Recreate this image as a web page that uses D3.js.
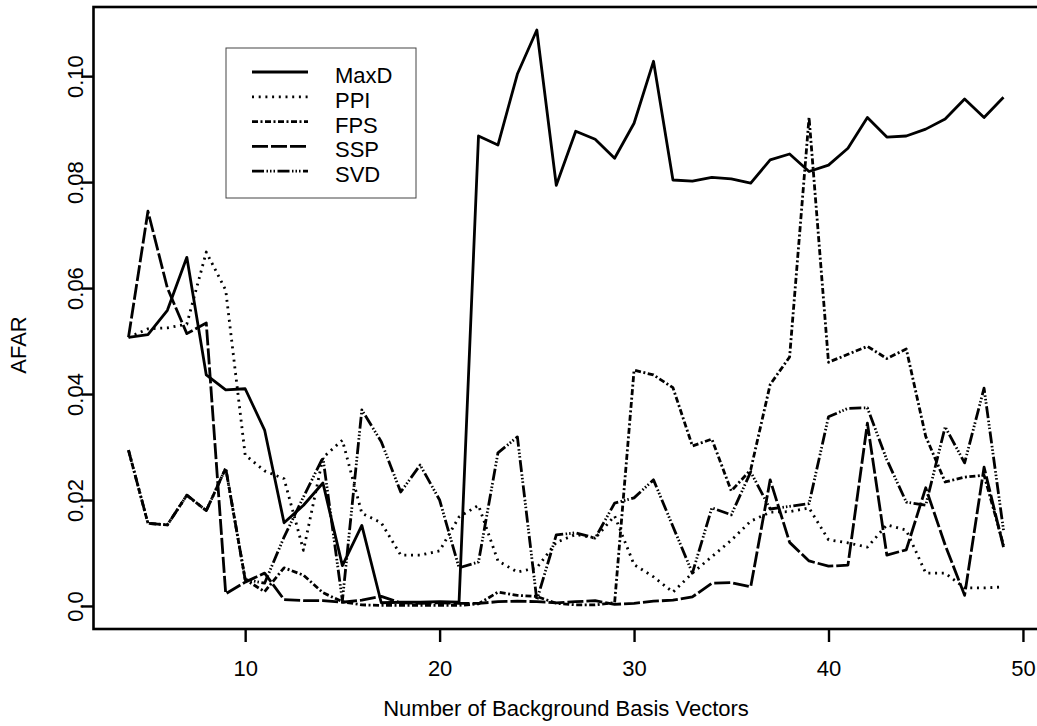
<!DOCTYPE html>
<html>
<head>
<meta charset="utf-8">
<script src="https://cdn.jsdelivr.net/npm/d3@7/dist/d3.min.js"></script>
<style>
  body { margin: 0; background: #fff; }
  text { font-family: "Liberation Sans", Arial, Helvetica, sans-serif; fill: #000; }
</style>
</head>
<body>
<div class="chart"></div>
<script>
var svgWidth = 1037;
var svgHeight = 726;

// number of background basis vectors (x)
var nBasis = [4, 5, 6, 7, 8, 9, 10, 11, 12, 13, 14, 15, 16, 17, 18, 19, 20, 21, 22, 23, 24, 25, 26,
  27, 28, 29, 30, 31, 32, 33, 34, 35, 36, 37, 38, 39, 40, 41, 42, 43, 44, 45, 46, 47, 48, 49];

// AFAR per method
var maxD = [0.0507, 0.0512, 0.0558, 0.0658, 0.0436, 0.0408, 0.0410, 0.0332, 0.0157, 0.0190, 0.0232, 0.0076,
  0.0152, 0.0006, 0.0007, 0.0007, 0.0008, 0.0007, 0.0887, 0.0870, 0.1004, 0.1087, 0.0794, 0.0896, 0.0881,
  0.0845, 0.0911, 0.1028, 0.0804, 0.0802, 0.0809, 0.0806, 0.0798, 0.0842, 0.0853, 0.0820, 0.0832, 0.0864,
  0.0922, 0.0885, 0.0887, 0.0900, 0.0919, 0.0957, 0.0922, 0.0960];
var ppi = [0.0507, 0.0523, 0.0525, 0.0532, 0.0668, 0.0596, 0.0285, 0.0255, 0.0240, 0.0105, 0.0280, 0.0313,
  0.0175, 0.0157, 0.0096, 0.0096, 0.0104, 0.0168, 0.0190, 0.0085, 0.0064, 0.0072, 0.0120, 0.0135, 0.0128,
  0.0170, 0.0078, 0.0055, 0.0026, 0.0062, 0.0093, 0.0124, 0.0160, 0.0177, 0.0178, 0.0185, 0.0125, 0.0119,
  0.0111, 0.0153, 0.0143, 0.0062, 0.0062, 0.0034, 0.0034, 0.0036];
var fps = [0.0294, 0.0156, 0.0153, 0.0209, 0.0180, 0.0260, 0.0050, 0.0027, 0.0072, 0.0058, 0.0025, 0.0008,
  0.0002, 0.0001, 0.0001, 0.0001, 0.0001, 0.0001, 0.0004, 0.0026, 0.0020, 0.0018, 0.0005, 0.0002, 0.0002,
  0.0006, 0.0445, 0.0436, 0.0412, 0.0302, 0.0315, 0.0217, 0.0257, 0.0418, 0.0470, 0.0922, 0.0460, 0.0475,
  0.0490, 0.0467, 0.0485, 0.0320, 0.0234, 0.0243, 0.0247, 0.0115];
var ssp = [0.0507, 0.0745, 0.0600, 0.0514, 0.0534, 0.0023, 0.0045, 0.0062, 0.0012, 0.0010, 0.0010, 0.0007,
  0.0011, 0.0018, 0.0006, 0.0005, 0.0006, 0.0005, 0.0005, 0.0008, 0.0009, 0.0008, 0.0006, 0.0008, 0.0010,
  0.0003, 0.0005, 0.0009, 0.0011, 0.0017, 0.0043, 0.0044, 0.0036, 0.0238, 0.0120, 0.0085, 0.0075, 0.0077,
  0.0345, 0.0096, 0.0106, 0.0223, 0.0115, 0.0020, 0.0262, 0.0111];
var svd = [0.0294, 0.0156, 0.0153, 0.0209, 0.0180, 0.0260, 0.0050, 0.0043, 0.0130, 0.0206, 0.0280, 0.0010,
  0.0370, 0.0310, 0.0215, 0.0266, 0.0200, 0.0072, 0.0083, 0.0289, 0.0319, 0.0011, 0.0134, 0.0138, 0.0128,
  0.0194, 0.0204, 0.0238, 0.0150, 0.0062, 0.0185, 0.0172, 0.0253, 0.0183, 0.0188, 0.0193, 0.0357, 0.0373,
  0.0374, 0.0276, 0.0196, 0.0190, 0.0338, 0.0270, 0.0411, 0.0143];

var seriesNames = ["MaxD", "PPI", "FPS", "SSP", "SVD"];
var xTicks = [10, 20, 30, 40, 50];
var yTicks = [0, 0.02, 0.04, 0.06, 0.08, 0.10];
var yTickLabels = ["0.0", "0.02", "0.04", "0.06", "0.08", "0.10"];

// line styles like R's lty
var dashes = [null, "2,4.7", "6,2.5,2,2.5", "16,3", "12,2.5,1.5,2,1.5,2,1.5,2.5"];

var margin = { top: 7, right: 0, bottom: 97, left: 93.5 };
var width = 1038.5 - margin.left;
var height = 629 - margin.top;
var fontSize = 22;

var svg = d3.select(".chart")
  .append("svg")
  .attr("width", svgWidth)
  .attr("height", svgHeight);

var chart = svg.append("g")
  .attr("transform", "translate(" + margin.left + "," + margin.top + ")");

// R style 4% padding on both axes
var xLinearScale = d3.scaleLinear().domain([2.2, 50.8]).range([0, width]);
var yLinearScale = d3.scaleLinear().domain([-0.00435, 0.11305]).range([height, 0]);

var allSeries = [maxD, ppi, fps, ssp, svd];

var line = d3.line()
  .x(function(d) { return xLinearScale(d.n); })
  .y(function(d) { return yLinearScale(d.v); });

allSeries.forEach(function(vals, i) {
  var pts = nBasis.map(function(n, j) { return { n: n, v: vals[j] }; });
  chart.append("path")
    .datum(pts)
    .attr("d", line)
    .attr("fill", "none")
    .attr("stroke", "#000")
    .attr("stroke-width", 2.8)
    .attr("stroke-linejoin", "round")
    .attr("stroke-dasharray", dashes[i]);
});

// frame
chart.append("rect")
  .attr("x", 0)
  .attr("y", 0)
  .attr("width", width)
  .attr("height", height)
  .attr("fill", "none")
  .attr("stroke", "#000")
  .attr("stroke-width", 2.6);

var bottomAxis = d3.axisBottom(xLinearScale)
  .tickValues(xTicks)
  .tickSize(13)
  .tickSizeOuter(0);

var leftAxis = d3.axisLeft(yLinearScale)
  .tickValues(yTicks)
  .tickSize(12)
  .tickSizeOuter(0)
  .tickFormat(function(d, i) { return yTickLabels[i]; });

var gx = chart.append("g")
  .attr("transform", "translate(0," + height + ")")
  .call(bottomAxis);
var gy = chart.append("g").call(leftAxis);

[gx, gy].forEach(function(g) {
  g.select(".domain").remove();
  g.selectAll(".tick line").attr("stroke", "#000").attr("stroke-width", 2.4);
  g.selectAll(".tick text").attr("font-size", fontSize).attr("font-family", null);
});

gx.selectAll(".tick text").attr("dy", null).attr("y", 47);

gy.selectAll(".tick text")
  .attr("x", null)
  .attr("dy", null)
  .attr("text-anchor", "middle")
  .attr("transform", "translate(-11,0) rotate(-90)");

// axis titles
chart.append("text")
  .attr("transform", "translate(" + (25.5 - margin.left) + "," + (345 - margin.top) + ") rotate(-90)")
  .attr("text-anchor", "middle")
  .attr("font-size", fontSize)
  .text("AFAR");

chart.append("text")
  .attr("x", width / 2)
  .attr("y", 716 - margin.top)
  .attr("text-anchor", "middle")
  .attr("font-size", fontSize)
  .text("Number of Background Basis Vectors");

// legend
var legend = svg.append("g").attr("transform", "translate(226,48)");
legend.append("rect")
  .attr("width", 190)
  .attr("height", 150)
  .attr("fill", "#fff")
  .attr("stroke", "#444")
  .attr("stroke-width", 1);

seriesNames.forEach(function(name, i) {
  var yy = 24 + i * 24.8;
  legend.append("line")
    .attr("x1", 26).attr("x2", 82)
    .attr("y1", yy).attr("y2", yy)
    .attr("stroke", "#000")
    .attr("stroke-width", 2.8)
    .attr("stroke-dasharray", dashes[i]);
  legend.append("text")
    .attr("x", 109)
    .attr("y", yy + 11)
    .attr("font-size", fontSize)
    .text(name);
});
</script>
</body>
</html>
